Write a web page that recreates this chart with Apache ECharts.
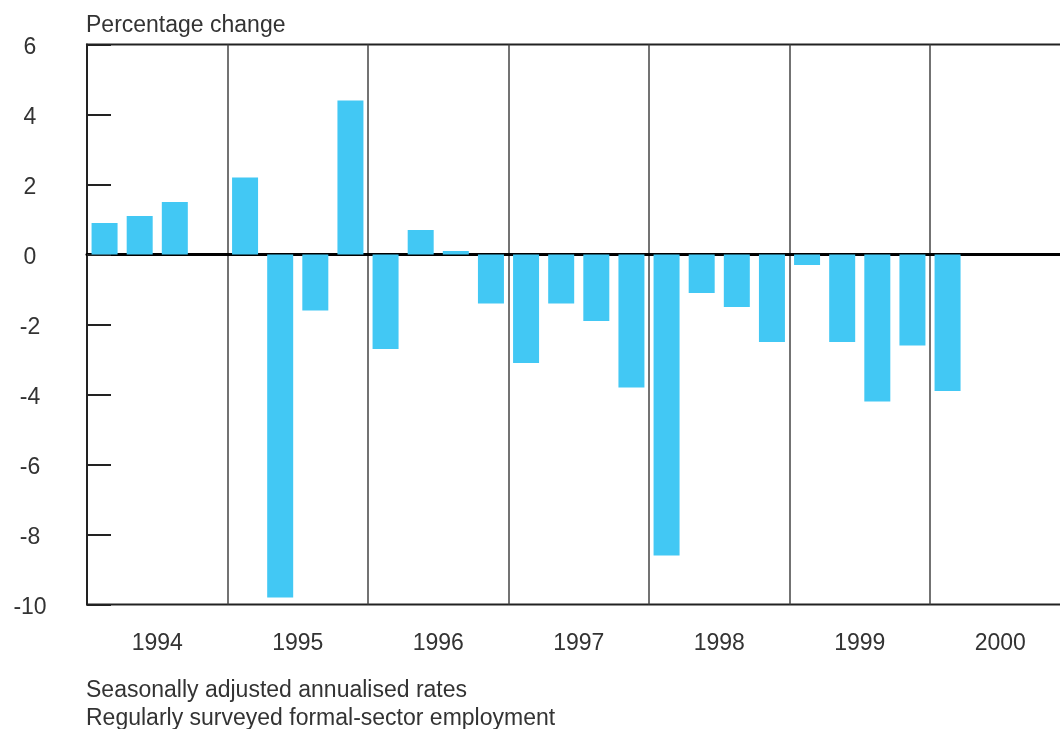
<!DOCTYPE html>
<html><head><meta charset="utf-8">
<script src="https://cdn.jsdelivr.net/npm/echarts@6/dist/echarts.min.js"></script>
<style>html,body{margin:0;padding:0;background:#fff}#c{width:1060px;height:729px}</style>
</head><body><div id="c"></div>
<script>
const quarters = ['1994Q1','1994Q2','1994Q3','1994Q4','1995Q1','1995Q2','1995Q3','1995Q4','1996Q1','1996Q2','1996Q3','1996Q4','1997Q1','1997Q2','1997Q3','1997Q4','1998Q1','1998Q2','1998Q3','1998Q4','1999Q1','1999Q2','1999Q3','1999Q4','2000Q1','2000Q2','2000Q3','2000Q4'];
const values = [0.9, 1.1, 1.5, null, 2.2, -9.8, -1.6, 4.4, -2.7, 0.7, 0.1, -1.4, -3.1, -1.4, -1.9, -3.8, -8.6, -1.1, -1.5, -2.5, -0.3, -2.5, -4.2, -2.6, -3.9, null, null, null];
const years = ['1994','1995','1996','1997','1998','1999','2000'];
const yTitle = 'Percentage change';
const notes = ['Seasonally adjusted annualised rates', 'Regularly surveyed formal-sector employment'];

const FONT = '"Liberation Sans", Arial, sans-serif';
const TXT = '#333';
const FS = 23;
const chart = echarts.init(document.getElementById('c'));
chart.setOption({
  animation: false,
  grid: { left: 87, top: 44.5, width: 983.5, height: 560, show: true, borderColor: '#222', borderWidth: 2, containLabel: false, outerBoundsMode: 'none' },
  xAxis: [
    { type: 'category', data: quarters, boundaryGap: true,
      axisLine: { onZero: true, lineStyle: { color: '#000', width: 3 } },
      axisTick: { show: false }, axisLabel: { show: false },
      splitLine: { show: true, interval: 3, lineStyle: { color: '#444', width: 1.5 } } },
    { type: 'category', data: years, position: 'bottom', offset: 0,
      axisLine: { show: false, onZero: false }, axisTick: { show: false },
      axisLabel: { margin: 28, fontSize: FS, color: TXT, fontFamily: FONT },
      splitLine: { show: false } }
  ],
  yAxis: { type: 'value', min: -10, max: 6, interval: 2,
    axisLine: { show: true, lineStyle: { color: '#222', width: 2 } },
    axisTick: { show: true, inside: true, length: 24, lineStyle: { color: '#222', width: 2 } },
    axisLabel: { align: 'center', margin: 57, formatter: '{a|{value}}',
      rich: { a: { fontSize: FS, color: TXT, fontFamily: FONT, padding: [6, 0, 0, 0] } } },
    splitLine: { show: false } },
  series: [{ type: 'bar', xAxisIndex: 0, data: values, barWidth: 26, itemStyle: { color: '#42C8F4' } }],
  graphic: [
    { type: 'text', left: 86, top: 14, style: { text: yTitle, fontSize: FS, fill: TXT, fontFamily: FONT } },
    { type: 'text', left: 86, top: 679, style: { text: notes[0], fontSize: FS, fill: TXT, fontFamily: FONT } },
    { type: 'text', left: 86, top: 707, style: { text: notes[1], fontSize: FS, fill: TXT, fontFamily: FONT } }
  ]
});
</script></body></html>
